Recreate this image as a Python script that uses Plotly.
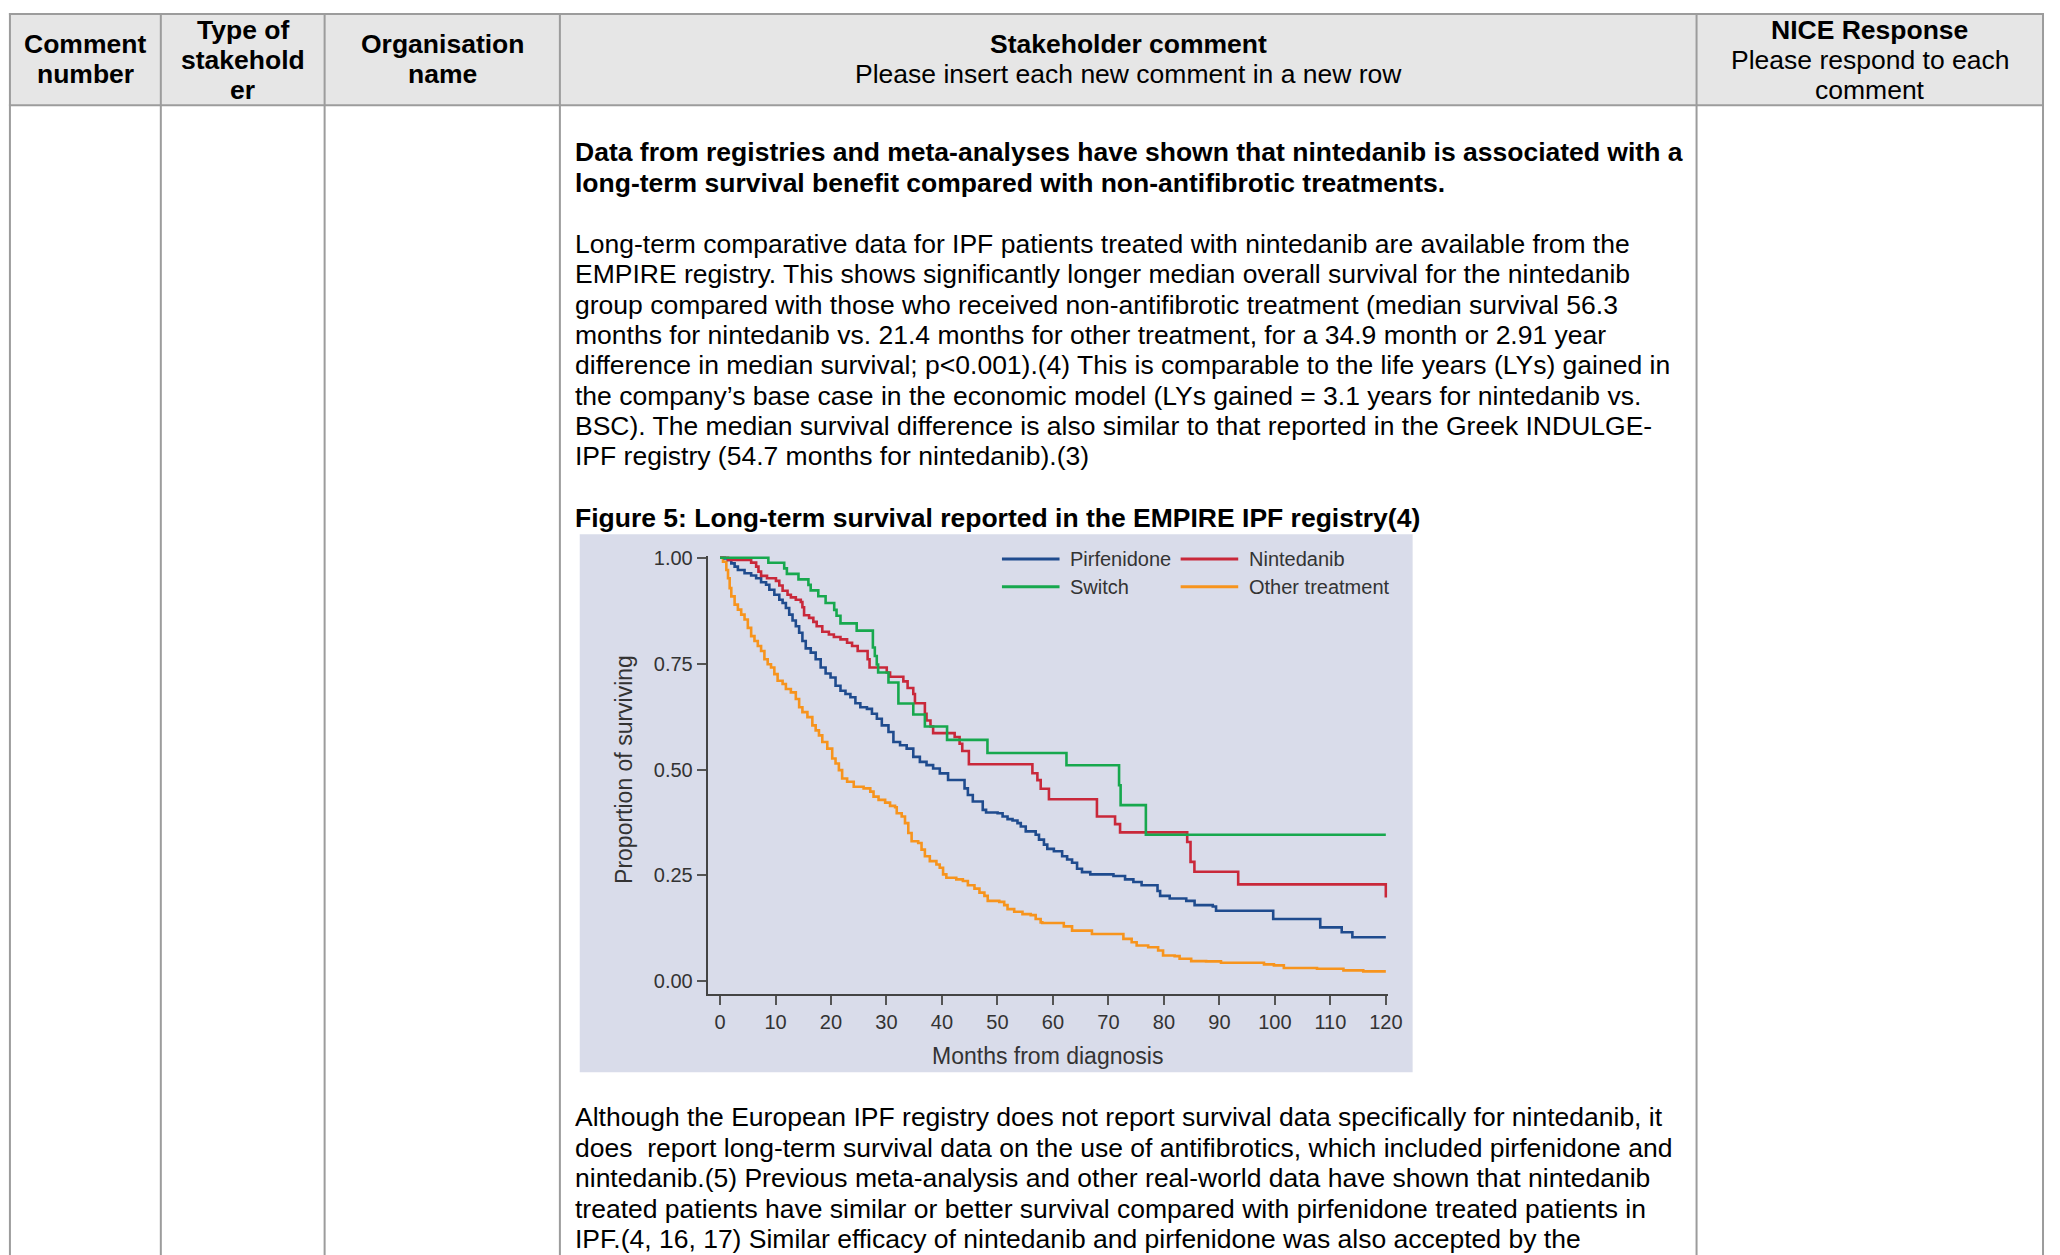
import plotly.graph_objects as go

W, H = 2060, 1255

# ---------------- chart data ----------------
series_names = ["Pirfenidone", "Nintedanib", "Switch", "Other treatment"]

pirfenidone_months = [0, 0.84, 1.44, 2.03, 2.63, 3.22, 4.42, 5.61, 6.51, 7.40, 8.30, 8.89, 9.79, 10.68, 11.28,
                      11.87, 12.47, 13.07, 13.66, 14.26, 14.85, 15.45, 16.35, 17.24, 18.14, 19.03, 19.92, 20.82,
                      21.71, 22.61, 23.50, 24.40, 25.29, 26.48, 27.38, 28.27, 29.16, 30.36, 31.25, 32.45, 33.64,
                      34.83, 36.02, 37.22, 38.41, 39.61, 41.10, 44.07, 44.67, 45.56, 47.35, 47.95, 50.03, 50.93,
                      51.82, 52.72, 53.61, 54.21, 55.10, 56.89, 57.49, 58.38, 58.98, 60.17, 61.66, 62.56, 63.45,
                      64.35, 65.24, 66.73, 70.91, 73.0, 74.5, 75.98, 78.85, 79.32, 81.05, 84.03, 85.53, 88.81,
                      89.40, 99.7, 108.18, 112.05, 113.97, 120]
pirfenidone_surv = [1.0, 0.9985, 0.9946, 0.9868, 0.979, 0.9712, 0.9634, 0.9579, 0.9517, 0.9423, 0.9361, 0.9243,
                    0.9126, 0.9009, 0.8931, 0.8814, 0.8658, 0.8517, 0.8384, 0.8228, 0.8033, 0.7861, 0.7759, 0.7603,
                    0.7408, 0.7268, 0.7174, 0.6979, 0.6861, 0.6783, 0.6705, 0.6565, 0.6471, 0.6432, 0.6315, 0.6197,
                    0.6041, 0.5885, 0.565, 0.5572, 0.5494, 0.5299, 0.5181, 0.5103, 0.5025, 0.4908, 0.4752, 0.4555,
                    0.4397, 0.4243, 0.4047, 0.3984, 0.3969, 0.389, 0.3828, 0.3797, 0.3734, 0.3656, 0.3539, 0.3461,
                    0.3344, 0.3227, 0.3125, 0.307, 0.2953, 0.2875, 0.2797, 0.2656, 0.2578, 0.2523, 0.2484, 0.2406,
                    0.2344, 0.2266, 0.2133, 0.2016, 0.1953, 0.1898, 0.1797, 0.1766, 0.1664, 0.1469, 0.1273, 0.1156,
                    0.1039, 0.1039]

nintedanib_months = [0, 1.44, 5.61, 6.51, 6.93, 7.40, 8.47, 10.08, 10.68, 11.28, 12.17, 12.77, 13.66, 14.56,
                     14.85, 15.15, 16.05, 16.82, 17.42, 18.43, 19.62, 20.52, 21.71, 22.90, 23.80, 24.81, 26.6,
                     26.95, 30.05, 30.65, 33.04, 33.81, 34.83, 35.13, 36.92, 37.22, 37.93, 38.41, 42.29, 43.18,
                     43.66, 44.85, 56.3, 57.2, 57.8, 59.28, 67.93, 71.2, 72.1, 84.2, 84.8, 85.5, 93.39, 120]
nintedanib_surv = [1.0, 0.9946, 0.9884, 0.979, 0.9673, 0.9571, 0.9517, 0.9454, 0.9345, 0.922, 0.9126, 0.9064,
                   0.9009, 0.8955, 0.883, 0.8642, 0.858, 0.8486, 0.8384, 0.8252, 0.8189, 0.8127, 0.8072, 0.7994,
                   0.7916, 0.7799, 0.7603, 0.7408, 0.7291, 0.7189, 0.708, 0.6923, 0.6782, 0.6563, 0.6313, 0.6157,
                   0.6016, 0.586, 0.5766, 0.5609, 0.5437, 0.5125, 0.491, 0.475, 0.4545, 0.4297, 0.389, 0.371,
                   0.3515, 0.329, 0.282, 0.2586, 0.2289, 0.1976]

switch_months = [0, 8.71, 11.57, 12.05, 14.14, 15.93, 16.34, 17.71, 19.03, 20.58, 21.0, 21.71, 24.63, 27.55,
                 27.9, 28.25, 28.5, 30.36, 32.15, 34.83, 36.92, 40.92, 48.2, 62.44, 71.92, 72.2, 76.75, 120]
switch_surv = [1.0, 0.988, 0.975, 0.962, 0.949, 0.936, 0.923, 0.909, 0.893, 0.877, 0.863, 0.845, 0.828, 0.788,
               0.768, 0.748, 0.729, 0.7055, 0.656, 0.630, 0.6016, 0.570, 0.539, 0.510, 0.463, 0.416, 0.346, 0.346]

other_months = [0, 0.54, 1.14, 1.44, 1.74, 2.03, 2.63, 3.22, 3.82, 4.42, 5.01, 5.61, 6.21, 6.81, 7.40, 8.0, 8.59,
                9.19, 9.79, 10.38, 11.28, 11.87, 12.77, 13.66, 14.26, 14.85, 15.75, 16.64, 17.24, 17.83, 18.43,
                19.33, 20.22, 20.82, 21.42, 22.01, 22.91, 24.1, 25.88, 27.08, 27.67, 28.57, 29.76, 30.65, 31.55,
                31.85, 32.74, 33.34, 33.93, 34.53, 35.72, 36.32, 36.92, 37.81, 39.0, 39.6, 40.2, 40.79, 42.58,
                43.77, 44.67, 45.86, 46.76, 47.65, 48.25, 50.33, 51.22, 51.82, 53.02, 54.51, 56.0, 56.89, 57.79,
                58.09, 61.96, 63.45, 67.03, 72.70, 74.19, 75.09, 77.17, 78.96, 79.85, 81.94, 82.83, 84.92, 87.61,
                90.29, 98.04, 99.83, 101.62, 107.59, 112.36, 115.93, 120]
other_surv = [1.0, 0.9907, 0.9712, 0.9517, 0.9282, 0.9087, 0.8892, 0.8775, 0.8658, 0.8541, 0.8345, 0.815, 0.8033,
              0.7916, 0.7799, 0.7603, 0.7486, 0.7408, 0.7252, 0.7096, 0.7018, 0.6901, 0.6822, 0.6666, 0.6471,
              0.6354, 0.6237, 0.6041, 0.5924, 0.5807, 0.565, 0.5494, 0.526, 0.5142, 0.4986, 0.4789, 0.4711, 0.4594,
              0.4555, 0.4477, 0.436, 0.4282, 0.4219, 0.4141, 0.411, 0.3969, 0.389, 0.3734, 0.35, 0.3305, 0.3266,
              0.3109, 0.2953, 0.2836, 0.2758, 0.268, 0.2523, 0.2445, 0.2406, 0.2367, 0.2266, 0.2188, 0.2094,
              0.2016, 0.1898, 0.1875, 0.1797, 0.1703, 0.164, 0.1586, 0.1563, 0.1469, 0.1391, 0.1375, 0.1297,
              0.1195, 0.1117, 0.1, 0.0922, 0.0844, 0.0805, 0.0727, 0.0609, 0.0594, 0.0531, 0.0477, 0.0469, 0.0438,
              0.0399, 0.0375, 0.0312, 0.0297, 0.0258, 0.0234, 0.0234]

x_tick_values = [0, 10, 20, 30, 40, 50, 60, 70, 80, 90, 100, 110, 120]
y_tick_values = [0, 0.25, 0.5, 0.75, 1.0]
y_tick_labels = ["0.00", "0.25", "0.50", "0.75", "1.00"]
x_title = "Months from diagnosis"
y_title = "Proportion of surviving"

# ---------------- document text ----------------
header_cols = [
    ["<b>Comment</b>", "<b>number</b>"],
    ["<b>Type of</b>", "<b>stakehold</b>", "<b>er</b>"],
    ["<b>Organisation</b>", "<b>name</b>"],
    ["<b>Stakeholder comment</b>", "Please insert each new comment in a new row"],
    ["<b>NICE Response</b>", "Please respond to each", "comment"],
]
para1 = ["<b>Data from registries and meta-analyses have shown that nintedanib is associated with a</b>",
         "<b>long-term survival benefit compared with non-antifibrotic treatments.</b>"]
para2 = ["Long-term comparative data for IPF patients treated with nintedanib are available from the",
         "EMPIRE registry. This shows significantly longer median overall survival for the nintedanib",
         "group compared with those who received non-antifibrotic treatment (median survival 56.3",
         "months for nintedanib vs. 21.4 months for other treatment, for a 34.9 month or 2.91 year",
         "difference in median survival; p&lt;0.001).(4) This is comparable to the life years (LYs) gained in",
         "the company\u2019s base case in the economic model (LYs gained = 3.1 years for nintedanib vs.",
         "BSC). The median survival difference is also similar to that reported in the Greek INDULGE-",
         "IPF registry (54.7 months for nintedanib).(3)"]
fig_caption = "<b>Figure 5: Long-term survival reported in the EMPIRE IPF registry(4)</b>"
para3 = ["Although the European IPF registry does not report survival data specifically for nintedanib, it",
         "does&nbsp; report long-term survival data on the use of antifibrotics, which included pirfenidone and",
         "nintedanib.(5) Previous meta-analysis and other real-world data have shown that nintedanib",
         "treated patients have similar or better survival compared with pirfenidone treated patients in",
         "IPF.(4, 16, 17) Similar efficacy of nintedanib and pirfenidone was also accepted by the"]

# ---------------- layout helpers ----------------
def px(x):
    return x / W

def py(y):
    return 1 - y / H

FONT = "Liberation Sans, Arial, sans-serif"
BODY = 26.5
colors = ["#1f4b8e", "#c9283a", "#17a84e", "#f7941d"]
BG = "#d9dcea"
TXT = "#333333"

fig = go.Figure()

months_list = [pirfenidone_months, nintedanib_months, switch_months, other_months]
surv_list = [pirfenidone_surv, nintedanib_surv, switch_surv, other_surv]
order = [3, 0, 1, 2]
for i in order:
    fig.add_trace(go.Scatter(x=months_list[i], y=surv_list[i], mode="lines", name=series_names[i],
                             line=dict(color=colors[i], width=2.6, shape="hv"), showlegend=False))

# axis geometry (pixels)
X0PX, X120PX = 725.3, 1396.0
Y0PX, Y1PX = 979.3, 552.7
AX_LEFT, AX_RIGHT = 712.7, 1397.7
AX_BOTTOM, AX_TOP = 992.3, 551.0
mpp = 120 / (X120PX - X0PX)
spp = 1 / (Y0PX - Y1PX)
x_range = [-(X0PX - AX_LEFT) * mpp, 120 + (AX_RIGHT - X120PX) * mpp]
y_range = [-(AX_BOTTOM - Y0PX) * spp, 1 + (Y1PX - AX_TOP) * spp]

fig.update_layout(
    width=W, height=H, margin=dict(l=0, r=0, t=0, b=0, pad=0),
    paper_bgcolor="white", plot_bgcolor="rgba(0,0,0,0)",
    font=dict(family=FONT, color="#000000"),
    xaxis=dict(domain=[px(AX_LEFT), px(AX_RIGHT)], range=x_range, showgrid=False, zeroline=False,
               showline=True, linecolor="#444444", linewidth=1.6, ticks="outside", ticklen=9,
               tickwidth=1.6, tickcolor="#555555", tickvals=x_tick_values,
               tickfont=dict(size=20, color=TXT, family=FONT), fixedrange=True),
    yaxis=dict(domain=[py(AX_BOTTOM), py(AX_TOP)], range=y_range, showgrid=False, zeroline=False,
               showline=True, linecolor="#444444", linewidth=1.6, ticks="outside", ticklen=9,
               tickwidth=1.6, tickcolor="#555555", tickvals=y_tick_values, ticktext=y_tick_labels,
               tickfont=dict(size=20, color=TXT, family=FONT), fixedrange=True),
)

shapes = []
# chart panel
shapes.append(dict(type="rect", xref="paper", yref="paper", x0=px(584), x1=px(1423), y0=py(1071), y1=py(529),
                   fillcolor=BG, line=dict(width=0), layer="below"))
# table header fill
shapes.append(dict(type="rect", xref="paper", yref="paper", x0=px(10), x1=px(2058), y0=py(97), y1=py(5),
                   fillcolor="#e6e6e6", line=dict(width=0), layer="below"))
BORDER = dict(color="#9c9c9c", width=2)
for yy in [5, 97]:
    shapes.append(dict(type="line", xref="paper", yref="paper", x0=px(9), x1=px(2059), y0=py(yy), y1=py(yy),
                       line=BORDER, layer="below"))
col_edges = [10, 162, 327, 564, 1709, 2058]
for xx in col_edges:
    shapes.append(dict(type="line", xref="paper", yref="paper", x0=px(xx), x1=px(xx), y0=py(4), y1=py(1255),
                       line=BORDER, layer="below"))

annotations = []

def txt(x, y, s, size=BODY, anchor="left", color="#000000", **kw):
    annotations.append(dict(x=px(x), y=py(y), xref="paper", yref="paper", text=s, showarrow=False,
                            xanchor=anchor, yanchor="middle", borderpad=0,
                            font=dict(size=size, color=color, family=FONT), **kw))

# header text
for c, lines in enumerate(header_cols):
    cx = (col_edges[c] + col_edges[c + 1]) / 2
    ys = [35.5, 65.7] if len(lines) == 2 else [21, 51.2, 81.5]
    for yy, s in zip(ys, lines):
        txt(cx, yy, s, anchor="center")

TX = 578
LS = 30.6
for k, s in enumerate(para1):
    txt(TX, 144.5 + k * LS, s)
for k, s in enumerate(para2):
    txt(TX, 236.5 + k * LS, s)
txt(TX, 512.4, fig_caption)
P3_TOP = 1116.5   # nudged up a few px so the last line stays inside the page
for k, s in enumerate(para3):
    txt(TX, P3_TOP + k * LS, s)

# axis titles
txt((AX_LEFT + AX_RIGHT) / 2, 1055, x_title, size=23, anchor="center", color=TXT)
txt(628, 766, y_title, size=23, anchor="center", color=TXT, textangle=-90)

# legend (two columns)
leg_pos = [(1009.3, 554), (1189.3, 554), (1009.3, 582), (1189.3, 582)]
leg_series = [0, 1, 2, 3]
for (lx, ly), i in zip(leg_pos, leg_series):
    shapes.append(dict(type="line", xref="paper", yref="paper", x0=px(lx), x1=px(lx + 58), y0=py(ly), y1=py(ly),
                       line=dict(color=colors[i], width=3)))
    txt(lx + 67.5, ly, series_names[i], size=20, color=TXT)

fig.update_layout(shapes=shapes, annotations=annotations)
fig.write_html("out.html")
